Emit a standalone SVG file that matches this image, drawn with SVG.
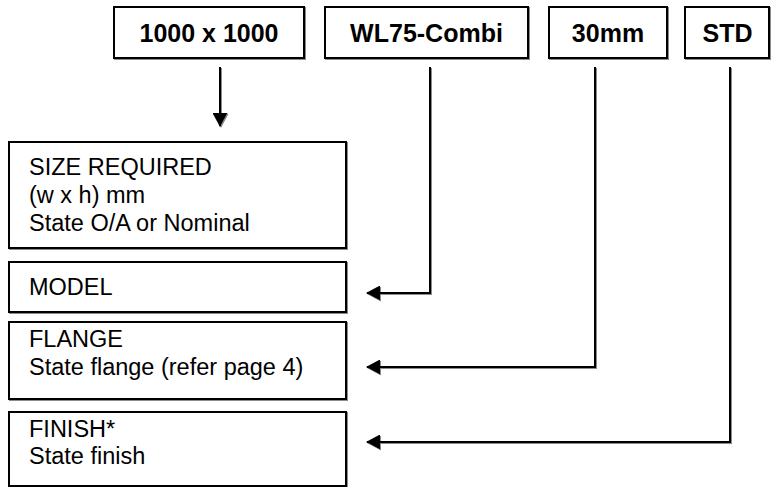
<svg xmlns="http://www.w3.org/2000/svg" width="771" height="487" viewBox="0 0 771 487">
  <defs>
    <style>
      .box { fill: #ffffff; stroke: #000000; stroke-width: 2; filter: url(#shade); }
      .head { font-family: "Liberation Sans", Arial, sans-serif; font-size: 25px; font-weight: bold; fill: #000; text-anchor: middle; }
      .lbl { font-family: "Liberation Sans", Arial, sans-serif; font-size: 23.5px; fill: #000; }
      .conn { fill: none; stroke: #000000; stroke-width: 2; filter: url(#shade); }
    </style>
    <filter id="shade" filterUnits="userSpaceOnUse" x="0" y="0" width="771" height="487">
      <feDropShadow dx="1" dy="1" stdDeviation="0" flood-color="#8c8c8c" flood-opacity="1"/>
    </filter>
    <marker id="arrow" markerUnits="userSpaceOnUse" markerWidth="14" markerHeight="15" refX="13" refY="7.5" orient="auto">
      <path d="M0,0 L14,7.5 L0,15 Z" fill="#000000"/>
    </marker>
  </defs>
  <rect x="0" y="0" width="771" height="487" fill="#ffffff"/>

  <g id="node-size-value">
    <rect class="box" x="114" y="7" width="190" height="51"/>
    <text class="head" x="209" y="42">1000 x 1000</text>
  </g>
  <g id="node-model-value">
    <rect class="box" x="325" y="7" width="203" height="51"/>
    <text class="head" x="426.5" y="42">WL75-Combi</text>
  </g>
  <g id="node-flange-value">
    <rect class="box" x="549" y="7" width="118" height="51"/>
    <text class="head" x="608" y="42">30mm</text>
  </g>
  <g id="node-finish-value">
    <rect class="box" x="685" y="7" width="84" height="51"/>
    <text class="head" x="727.5" y="42">STD</text>
  </g>

  <g id="node-size">
    <rect class="box" x="9" y="142" width="337" height="106"/>
    <text class="lbl" x="29" y="175">SIZE REQUIRED</text>
    <text class="lbl" x="29" y="203">(w x h) mm</text>
    <text class="lbl" x="29" y="231">State O/A or Nominal</text>
  </g>
  <g id="node-model">
    <rect class="box" x="9" y="262" width="337" height="50"/>
    <text class="lbl" x="29" y="295">MODEL</text>
  </g>
  <g id="node-flange">
    <rect class="box" x="9" y="322" width="337" height="77"/>
    <text class="lbl" x="29" y="347">FLANGE</text>
    <text class="lbl" x="29" y="375">State flange (refer page 4)</text>
  </g>
  <g id="node-finish">
    <rect class="box" x="9" y="412" width="337" height="74"/>
    <text class="lbl" x="29" y="437">FINISH*</text>
    <text class="lbl" x="29" y="464">State finish</text>
  </g>

  <g id="connectors">
    <path class="conn" d="M220,67 V126" marker-end="url(#arrow)"/>
    <path class="conn" d="M430,67 V293 H367" marker-end="url(#arrow)"/>
    <path class="conn" d="M595,67 V367 H367" marker-end="url(#arrow)"/>
    <path class="conn" d="M730,67 V442 H367" marker-end="url(#arrow)"/>
  </g>
</svg>
